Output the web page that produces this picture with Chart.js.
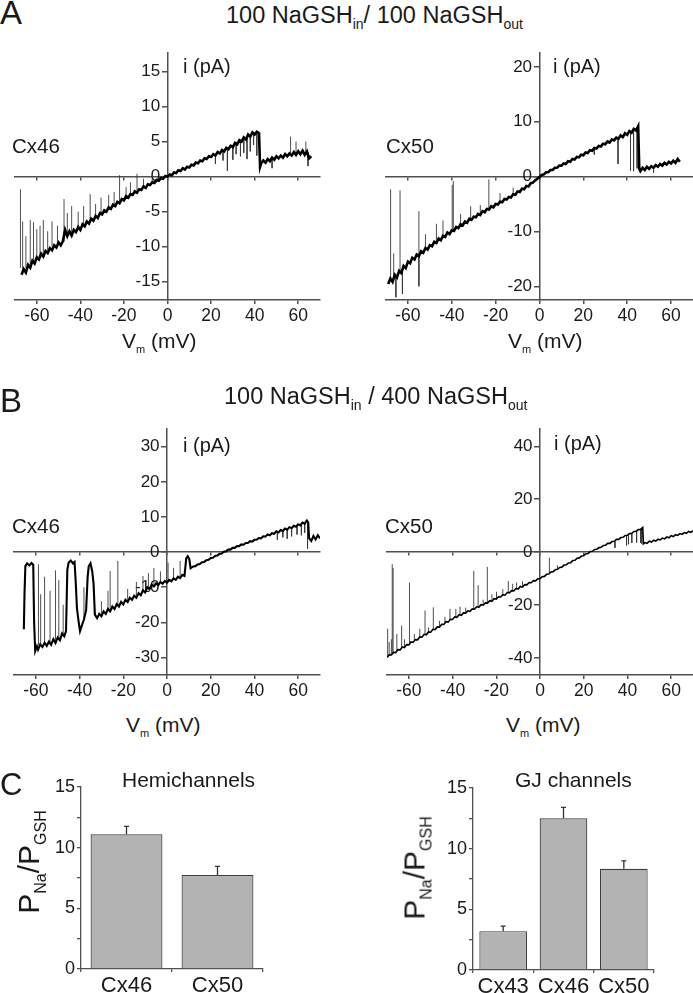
<!DOCTYPE html>
<html>
<head>
<meta charset="utf-8">
<script src="https://cdn.jsdelivr.net/npm/chart.js"></script>
<style>
  body { margin: 0; background: #fff; width: 693px; height: 993px; position: relative; overflow: hidden;
         font-family: "Liberation Sans", Arial, sans-serif; color: #1a1a1a; }
  canvas { position: absolute; }
  .t { position: absolute; line-height: 1; white-space: nowrap; z-index: 2; }
  .yl { position: absolute; line-height: 1; white-space: nowrap; transform: translate(-50%, -50%) rotate(-90deg); }
</style>
</head>
<body>
<canvas id="aL" width="340" height="290" style="left:0;top:40px"></canvas>
<canvas id="aR" width="333" height="290" style="left:360px;top:40px"></canvas>
<canvas id="bL" width="340" height="289" style="left:0;top:416px"></canvas>
<canvas id="bR" width="333" height="289" style="left:360px;top:416px"></canvas>
<canvas id="cL" width="300" height="233" style="left:0;top:760px"></canvas>
<canvas id="cR" width="313" height="233" style="left:380px;top:760px"></canvas>

<div class="t" style="left:0;top:-4px;font-size:33px">A</div>
<div class="t" style="left:226px;top:4px;font-size:23.5px">100 NaGSH<sub style="font-size:14px">in</sub>/ 100 NaGSH<sub style="font-size:14px">out</sub></div>
<div class="t" style="left:183px;top:56px;font-size:20px">i (pA)</div>
<div class="t" style="left:553px;top:56px;font-size:20px">i (pA)</div>
<div class="t" style="left:12px;top:136px;font-size:20.5px">Cx46</div>
<div class="t" style="left:386px;top:136px;font-size:20.5px">Cx50</div>
<div class="t" style="left:122px;top:330px;font-size:21px">V<sub style="font-size:11px">m</sub> (mV)</div>
<div class="t" style="left:508px;top:330px;font-size:21px">V<sub style="font-size:11px">m</sub> (mV)</div>

<div class="t" style="left:0;top:384px;font-size:33px">B</div>
<div class="t" style="left:224px;top:385px;font-size:23.5px">100 NaGSH<sub style="font-size:14px">in</sub> / 400 NaGSH<sub style="font-size:14px">out</sub></div>
<div class="t" style="left:183px;top:435px;font-size:20px">i (pA)</div>
<div class="t" style="left:554px;top:433px;font-size:20px">i (pA)</div>
<div class="t" style="left:12px;top:516px;font-size:20.5px">Cx46</div>
<div class="t" style="left:385px;top:516px;font-size:20.5px">Cx50</div>
<div class="t" style="left:126px;top:714px;font-size:21px">V<sub style="font-size:11px">m</sub> (mV)</div>
<div class="t" style="left:506px;top:714px;font-size:21px">V<sub style="font-size:11px">m</sub> (mV)</div>

<div class="t" style="left:0;top:769px;font-size:31px">C</div>
<div class="t" style="left:122px;top:769px;font-size:21px">Hemichannels</div>
<div class="t" style="left:515px;top:769px;font-size:21px">GJ channels</div>
<div class="yl" style="left:31px;top:862px;font-size:30px">P<sub style="font-size:16px">Na</sub>/P<sub style="font-size:16px">GSH</sub></div>
<div class="yl" style="left:417px;top:868px;font-size:30px">P<sub style="font-size:16px">Na</sub>/P<sub style="font-size:16px">GSH</sub></div>

<script>
// ---- tick labels ----
const vmTicks = [-60, -40, -20, 0, 20, 40, 60];
const aLTicks = [-15, -10, -5, 0, 5, 10, 15];
const aRTicks = [-20, -10, 0, 10, 20];
const bLTicks = [-30, -20, -10, 0, 10, 20, 30];
const bRTicks = [-40, -20, 0, 20, 40];

// ---- A: 100 NaGSH in / 100 NaGSH out ----
const vA46 = [-67,-66,-65,-64,-63,-62,-61,-60,-59,-58,-57,-56,-55,-54,-53,-52,-51,-50,-49,-48,
  -47,-46,-45,-44,-43,-42,-41,-40,-39,-38,-37,-36,-35,-34,-33,-32,-31,-30,-29,-28,
  -27,-26,-25,-24,-23,-22,-21,-20,-19,-18,-17,-16,-15,-14,-13,-12,-11,-10,-9,-8,
  -7,-6,-5,-4,-3,-2,-1,0,1,2,3,4,5,6,7,8,9,10,11,12,13,14,15,16,17,18,19,20,
  21,22,23,24,25,26,27,28,29,30,31,32,33,34,35,36,37,38,39,40,41,42,42.5,
  43,44,45,46,47,48,49,50,51,52,53,54,55,56,57,58,59,60,61,62,63,64,65,66];
const iA46 = [-14.0,-13.2,-13.7,-12.6,-13.0,-12.0,-12.4,-11.5,-11.8,-11.0,
  -11.4,-10.6,-10.9,-10.2,-10.5,-9.8,-10.1,-9.4,-9.8,-9.2,
  -7.6,-8.5,-7.8,-8.4,-7.6,-7.9,-7.2,-7.6,-6.8,-7.1,
  -6.4,-6.7,-6.0,-6.3,-5.6,-5.9,-5.2,-5.4,-4.8,-5.0,
  -4.4,-4.6,-4.0,-4.2,-3.6,-3.8,-3.2,-3.4,-2.8,-3.0,
  -2.5,-2.6,-2.1,-2.3,-1.8,-1.9,-1.4,-1.6,-1.1,-1.2,
  -0.8,-0.9,-0.5,-0.6,-0.2,-0.3,0.1,0.0,
  0.3,0.2,0.6,0.5,0.9,0.8,1.2,1.0,1.4,1.3,
  1.7,1.6,2.0,1.9,2.3,2.2,2.6,2.5,2.9,2.8,
  3.2,3.0,3.5,3.3,3.8,3.6,4.1,3.9,4.4,4.2,
  4.8,4.6,5.2,5.0,5.6,5.3,6.0,5.7,6.3,6.0,
  6.4,6.2,1.4,
  1.9,2.3,2.0,2.5,2.2,2.7,2.4,2.9,
  2.6,3.0,2.7,3.2,2.9,3.3,3.0,3.5,3.1,3.6,
  3.2,3.7,3.1,3.6,2.6,2.9];
const spkA46V  = [-67.5,-66.5,-65,-63,-61.5,-60,-58.5,-57,-55,-53,-50.5,-47.5,-46,-44,-41,-38.5,-35.5,-33,-30.5,-27,
  -24.5,-22,-19,-17,-14,-11,-7, 22,25.5,27.5,30,31.5,33.5,35,36.5,38,39.5,41, 48,56.5,59,63.5,64.5];
const spkA46Lo = [-13.0,-13.5,-13.0,-12.8,-12.0,-11.6,-11.3,-11.0,-10.5,-10.0,-9.5,-9.3,-8.4,-8.2,-7.3,-7.0,-6.2,-5.8,-5.3,-4.5,
  -4.1,-3.7,-2.9,-2.5,-2.2,-1.5,-0.8, 3.1,3.7,4.0,4.3,4.8,5.1,5.5,5.8,5.9,6.2,6.4, 2.7,3.3,3.2,3.5,3.4];
const spkA46Hi = [-1.8,-6.4,-8.5,-6.2,-6.5,-7.5,-7.0,-6.2,-7.8,-6.4,-7.0,-3.2,-5.2,-4.2,-5.0,-4.2,-2.5,-3.9,-3.0,-2.6,
  -2.2,0.2,-1.5,-0.8,0.4,-0.3,0.5, 1.8,2.3,0.8,2.4,3.2,2.9,3.4,2.5,3.6,4.5,3.0, 1.2,5.7,5.0,5.0,1.5];

const vA50 = [-69,-68,-67,-66,-65,-64,-63,-62,-61,-60,-59,-58,-57,-56,-55,-54,-53,-52,-51,-50,
  -49,-48,-47,-46,-45,-44,-43,-42,-41,-40,-39,-38,-37,-36,-35,-34,-33,-32,-31,-30,
  -29,-28,-27,-26,-25,-24,-23,-22,-21,-20,-19,-18,-17,-16,-15,-14,-13,-12,-11,-10,
  -9,-8,-7,-6,-5,-4,-3,-2,-1,0,1,2,3,4,5,6,7,8,9,10,11,12,13,14,15,16,17,18,19,20,
  21,22,23,24,25,26,27,28,29,30,31,32,33,34,35,36,37,38,39,40,41,42,43,44,45,45.5,
  46,47,48,49,50,51,52,53,54,55,56,57,58,59,60,61,62,63,64];
const iA50 = [-19.6,-18.6,-19.2,-17.9,-18.4,-17.2,-17.6,-16.3,-16.7,-15.5,
  -15.8,-14.8,-15.1,-14.2,-14.5,-13.6,-13.9,-13.0,-13.3,-12.5,
  -12.7,-11.9,-12.1,-11.3,-11.6,-10.8,-11.0,-10.2,-10.5,-9.8,
  -9.9,-9.2,-9.4,-8.7,-8.9,-8.2,-8.4,-7.7,-7.9,-7.3,
  -7.4,-6.8,-7.0,-6.3,-6.5,-5.9,-6.0,-5.4,-5.6,-5.0,
  -5.1,-4.6,-4.7,-4.1,-4.2,-3.7,-3.8,-3.2,-3.3,-2.7,
  -2.8,-2.2,-2.3,-1.7,-1.8,-1.2,-1.1,-0.7,-0.4,-0.1,
  0.3,0.4,0.8,0.8,1.2,1.2,1.6,1.6,2.0,2.0,
  2.4,2.3,2.8,2.7,3.2,3.1,3.6,3.5,4.0,3.9,
  4.4,4.3,4.8,4.7,5.2,5.1,5.6,5.5,6.0,5.9,
  6.4,6.2,6.8,6.6,7.1,6.9,7.5,7.2,7.9,7.6,
  8.3,8.0,8.7,8.4,9.2,1.4,
  1.0,1.6,1.2,1.8,1.4,1.9,1.6,2.1,1.8,2.3,
  2.0,2.5,2.2,2.7,2.4,2.9,2.5,3.2,2.7];
const spkA50V  = [-67.9,-66.5,-65.5,-63.6,-62.5,-55,-55,-52,-47,-44,-39.8,-39.3,-36,-31.4,-27,-23.1,-18,-12, 25,35.8,41.5,42.9,44.5,52];
const spkA50Lo = [-19.0,-18.5,-18.2,-17.4,-17.0,-14.5,-14.5,-13.0,-12.1,-10.8,-9.8,-9.9,-8.7,-7.9,-7.0,-6.0,-4.6,-3.2, 5.1,7.0,8.2,8.6,9.0,1.6];
const spkA50Hi = [-2.3,-14.0,-22.0,-2.5,-21.4,-6.3,-20.0,-10.5,-8.6,-8.0,-1.5,-0.8,-6.8,-5.4,-5.2,-0.5,-3.0,-2.0, 4.0,2.3,1.1,1.0,1.5,0.7];

// ---- B: 100 NaGSH in / 400 NaGSH out ----
const vB46 = [-65.5,-65.2,-64.8,-64,-63,-62,-61.2,-60.8,-60.3,-59.5,-59,-58,-57,-56,-55,-54,-53,-52,-51,-50,
  -49,-48,-47,-46.2,-45.6,-45,-44,-43,-42.3,-41.8,-41.2,-40.5,-39.8,-39,-38,-37,-36.3,-35.8,-35,-34.2,-33.6,-33,
  -32,-31,-30,-29,-28,-27,-26,-25,-24,-23,-22,-21,-20,-19,-18,-17,-16,-15,-14,-13,-12,-11,-10,-9,
  -8,-7,-6,-5,-4,-3,-2,-1,0,1,2,3,4,5,6,7,8,8.8,9.5,10.2,10.8,
  12,13,14,15,16,17,18,19,20,21,22,23,24,25,26,27,28,29,30,31,32,33,34,35,36,37,38,39,40,
  41,42,43,44,45,46,47,48,49,50,51,52,53,54,55,56,57,58,59,60,61,62,63,64,64.6,65,66,67,68,69,70];
const iB46 = [-22.0,-12.0,-4.0,-3.2,-3.8,-3.1,-3.6,-20.0,-28.2,-26.8,-27.8,-26.3,-27.0,-25.8,-26.7,-25.5,-26.4,-24.8,-25.9,-24.3,
  -25.1,-23.2,-24.0,-22.5,-5.0,-3.0,-2.4,-3.2,-2.8,-8.0,-16.0,-19.5,-22.5,-21.0,-19.2,-16.5,-7.0,-4.0,-3.2,-5.5,-9.0,-17.8,
  -18.8,-17.6,-18.3,-16.9,-17.6,-16.2,-16.9,-15.5,-16.2,-14.8,-15.5,-14.2,-14.9,-13.6,-14.2,-13.0,-13.6,-12.4,-13.0,-11.7,-12.3,-10.9,-11.5,-10.0,
  -10.6,-9.3,-9.8,-8.9,-9.4,-8.5,-9.0,-8.2,-8.7,-7.9,-8.3,-7.5,-7.9,-7.0,-7.4,-6.5,-6.8,-1.8,-1.2,-2.0,-4.6,
  -4.1,-4.0,-3.5,-3.4,-2.9,-2.8,-2.3,-2.2,-1.7,-1.6,-1.1,-1.0,-0.5,-0.4,0.1,0.2,0.7,0.7,1.2,1.2,1.7,1.7,2.2,2.1,2.6,2.6,3.1,3.0,3.5,
  3.5,4.0,3.9,4.5,4.4,5.0,4.8,5.4,5.2,5.9,5.6,6.3,6.0,6.7,6.4,7.1,6.8,7.5,7.2,7.9,7.6,8.4,8.1,9.0,8.5,4.0,3.2,4.6,3.6,4.8,3.9];
const spkB46V  = [-58.8,-57.8,-56,-53.5,-51,-49.5,-47.5,-38,-30,-27,-26,-22.5,-18,-14,-11,-8.5,-6,-3,0.5,3,6,
  50.5,53,55,57,59.5,61.5,63,64.3];
const spkB46Lo = [-26.5,-26.3,-25.8,-26.0,-25.9,-24.8,-23.6,-19.2,-18.3,-16.2,-16.9,-15.3,-14.2,-13.0,-10.9,-10.3,-9.8,-8.5,-8.3,-7.5,-7.4,
  5.7,6.0,6.4,6.8,7.4,8.0,8.1,8.8];
const spkB46Hi = [-3.5,-12.0,-7.0,-11.0,-5.2,-8.0,-15.0,-10.0,-14.0,-11.0,-5.4,-2.5,-10.5,-8.5,-6.8,-6.0,-4.5,-5.5,-3.0,-4.5,-2.5,
  3.5,4.2,3.8,4.5,5.0,4.8,5.5,1.0];

const vB50 = [-70,-69,-68,-67,-66,-65,-64,-63,-62,-61,-60,-59,-58,-57,-56,-55,-54,-53,-52,-51,
  -50,-49,-48,-47,-46,-45,-44,-43,-42,-41,-40,-39,-38,-37,-36,-35,-34,-33,-32,-31,
  -30,-29,-28,-27,-26,-25,-24,-23,-22,-21,-20,-19,-18,-17,-16,-15,-14,-13,-12,-11,
  -10,-9,-8,-7,-6,-5,-4,-3,-2,-1,0,1,2,3,4,5,6,7,8,9,10,11,12,13,14,15,16,17,18,19,
  20,21,22,23,24,25,26,27,28,29,30,31,32,33,34,35,36,37,38,39,40,41,42,43,44,45,46,47,47.3,
  48,49,50,51,52,53,54,55,56,57,58,59,60,61,62,63,64,65,66,67,68,69,70];
const iB50 = [-39.9,-38.9,-38.9,-37.9,-38.0,-36.9,-37.0,-35.9,-36.1,-35.0,
  -35.1,-34.0,-34.1,-33.1,-33.2,-32.1,-32.2,-31.1,-31.3,-30.2,
  -30.3,-29.2,-29.3,-28.3,-28.4,-27.3,-27.4,-26.3,-26.5,-25.4,
  -25.5,-24.5,-24.7,-23.7,-23.9,-23.0,-23.1,-22.2,-22.4,-21.5,
  -21.6,-20.7,-20.9,-19.9,-20.1,-19.2,-19.3,-18.4,-18.6,-17.6,
  -17.8,-16.9,-17.0,-16.1,-16.3,-15.3,-15.4,-14.6,-14.7,-13.8,
  -14.0,-13.0,-13.2,-12.3,-12.4,-11.5,-11.6,-10.8,-10.9,-10.1,
  -10.1,-9.3,-9.2,-8.4,-8.3,-7.5,-7.4,-6.7,-6.5,-5.8,
  -5.7,-4.9,-4.8,-4.1,-4.0,-3.2,-3.1,-2.3,-2.2,-1.5,
  -1.4,-0.6,-0.5,0.2,0.3,1.0,1.1,1.7,1.8,2.5,
  2.6,3.3,3.3,4.0,4.1,4.8,4.8,5.5,5.6,6.3,
  6.4,7.0,7.1,7.8,7.9,8.5,8.6,9.3,3.1,
  3.6,3.3,4.1,3.8,4.5,4.2,4.9,4.6,5.3,5.0,
  5.7,5.4,6.2,5.9,6.6,6.3,7.0,6.7,7.4,7.1,
  7.8,7.5,8.1];
const spkB50V  = [-69.7,-69,-68,-67.6,-67.2,-65.5,-63.3,-62,-59.7,-57.5,-55,-52.6,-51,-48.8,-46,-43.5,-41.2,-38.5,-36.6,-34,
  -30.3,-28.3,-26,-24.1,-22,-19.9,-17,-14.5,-12.5,-10.7,-8,4.3,8, 34.3,39.6,40.5,42,44.2,46,46.5];
const spkB50Lo = [-39.7,-38.9,-38.8,-38.7,-38.5,-37.5,-36.5,-36.0,-34.7,-33.6,-32.4,-31.2,-30.5,-29.4,-28.1,-26.8,-25.8,-24.6,-23.9,-23.0,
  -21.6,-20.8,-20.0,-19.3,-18.5,-17.7,-16.4,-15.4,-14.7,-14.0,-13.0,-8.2,-6.5, 4.1,6.3,6.6,7.1,8.0,8.6,8.9];
const spkB50Hi = [-29.0,-34.0,-33.0,-4.6,-6.0,-31.0,-27.8,-33.0,-11.5,-31.0,-29.0,-22.1,-28.5,-20.9,-26.0,-24.5,-21.5,-21.5,-20.6,-21.0,
  -7.1,-12.5,-18.0,-5.6,-16.0,-15.0,-14.0,-10.9,-12.0,-11.5,-11.0,-2.1,-5.0, 1.6,2.5,3.0,3.5,3.6,3.5,3.2];

// ---- C: permeability ratios ----
const hemiCats = ['Cx46', 'Cx50'];
const hemiVals = [11.1, 7.75];
const hemiErr  = [0.65, 0.7];
const gjCats = ['Cx43', 'Cx46', 'Cx50'];
const gjVals = [3.2, 12.5, 8.35];
const gjErr  = [0.42, 0.9, 0.65];

const AXIS = '#505050';
Chart.defaults.font.family = '"Liberation Sans", Arial, sans-serif';
Chart.defaults.color = '#1a1a1a';
Chart.defaults.animation = false;
Chart.defaults.events = [];

function points(vs, is) {
  return vs.map((v, k) => ({x: v, y: is[k]}));
}
// each spike is a short vertical stroke, separated by a gap
function spikes(vs, lo, hi) {
  const out = [];
  vs.forEach((v, k) => { out.push({x: v, y: lo[k]}, {x: v, y: hi[k]}, {x: v, y: null}); });
  return out;
}
const fixTicks = list => scale => { scale.ticks = list.map(v => ({value: v})); };

function ivChart(id, pad, yMax, yTicks, v, i, sv, slo, shi, lw) {
  const axisLine = {color: AXIS, width: 1.5};
  return new Chart(document.getElementById(id), {
    type: 'scatter',
    data: {
      datasets: [
        {data: points(v, i), showLine: true, borderColor: '#000', borderWidth: lw, pointRadius: 0, xAxisID: 'xb', yAxisID: 'y'},
        {data: spikes(sv, slo, shi), showLine: true, spanGaps: false, borderColor: '#3a3a3a', borderWidth: 0.9, pointRadius: 0, xAxisID: 'xb', yAxisID: 'y'}
      ]
    },
    options: {
      responsive: false,
      layout: {padding: pad},
      plugins: {legend: {display: false}, tooltip: {enabled: false}},
      scales: {
        xb: {
          type: 'linear', position: 'bottom', min: -70, max: 70,
          afterBuildTicks: fixTicks(vmTicks),
          ticks: {maxRotation: 0, padding: 2, font: {size: 17.5}},
          grid: {drawOnChartArea: false, tickLength: 4, color: AXIS, lineWidth: 1.5},
          border: axisLine,
          afterFit: s => { s.height = 30; }
        },
        x0: {
          type: 'linear', position: {y: 0}, min: -70, max: 70,
          afterBuildTicks: fixTicks(vmTicks),
          ticks: {display: false},
          grid: {drawOnChartArea: false, tickLength: 3, color: AXIS, lineWidth: 1.5},
          border: axisLine
        },
        // current axis through V = 0 (line and tick marks)
        y: {
          type: 'linear', position: {xb: 0}, min: -yMax, max: yMax,
          afterBuildTicks: fixTicks(yTicks),
          ticks: {display: false},
          grid: {drawOnChartArea: false, tickLength: 5, color: AXIS, lineWidth: 1.5},
          border: axisLine
        },
        // its labels, set a few px left of the axis line
        yLab: {
          type: 'linear', position: {xb: -3.4}, min: -yMax, max: yMax,
          afterBuildTicks: fixTicks(yTicks),
          ticks: {font: {size: 17}},
          grid: {display: false},
          border: {display: false}
        }
      }
    }
  });
}

ivChart('aL', {left: 15, right: 20, top: 12, bottom: 0}, 17.6, aLTicks, vA46, iA46, spkA46V, spkA46Lo, spkA46Hi, 2.6);
ivChart('aR', {left: 26, right: 0, top: 12, bottom: 0}, 22.5, aRTicks, vA50, iA50, spkA50V, spkA50Lo, spkA50Hi, 2.6);
ivChart('bL', {left: 14, right: 20, top: 12, bottom: 0}, 35, bLTicks, vB46, iB46, spkB46V, spkB46Lo, spkB46Hi, 2.1);
ivChart('bR', {left: 27, right: 0, top: 12, bottom: 0}, 46.5, bRTicks, vB50, iB50, spkB50V, spkB50Lo, spkB50Hi, 1.6);

const errorBars = {
  id: 'errorBars',
  afterDatasetsDraw(chart) {
    const ctx = chart.ctx;
    const ds = chart.data.datasets[0];
    const y = chart.scales.y;
    ctx.save();
    ctx.strokeStyle = '#333';
    ctx.lineWidth = 1.3;
    chart.getDatasetMeta(0).data.forEach((bar, k) => {
      const top = y.getPixelForValue(ds.data[k] + ds.errors[k]);
      ctx.beginPath();
      ctx.moveTo(bar.x, bar.y);
      ctx.lineTo(bar.x, top);
      ctx.moveTo(bar.x - 2.5, top);
      ctx.lineTo(bar.x + 2.5, top);
      ctx.stroke();
    });
    ctx.restore();
  }
};

function barChart(id, pad, yWidth, xHeight, cats, vals, errs) {
  return new Chart(document.getElementById(id), {
    type: 'bar',
    data: {
      labels: cats,
      datasets: [{data: vals, errors: errs, backgroundColor: '#b3b3b3', borderColor: '#3c3c3c', borderWidth: 1.2,
                  barPercentage: 0.79, categoryPercentage: 1}]
    },
    options: {
      responsive: false,
      layout: {padding: pad},
      plugins: {legend: {display: false}, tooltip: {enabled: false}},
      scales: {
        x: {
          ticks: {padding: 1, font: {size: 22}},
          grid: {drawOnChartArea: false, offset: true, tickLength: 3, color: AXIS, lineWidth: 1.3},
          border: {color: AXIS, width: 1.3},
          afterFit: s => { s.height = xHeight; }
        },
        y: {
          min: 0, max: 15,
          ticks: {stepSize: 2.5, padding: 2, font: {size: 18}, callback: v => (v % 5 === 0 ? v : '')},
          grid: {drawOnChartArea: false, tickLength: 4, color: AXIS, lineWidth: 1.3},
          border: {color: AXIS, width: 1.3},
          afterFit: s => { s.width = yWidth; }
        }
      }
    },
    plugins: [errorBars]
  });
}

barChart('cL', {left: 0, right: 37, top: 27, bottom: 0}, 81, 24, hemiCats, hemiVals, hemiErr);
barChart('cR', {left: 0, right: 39, top: 28, bottom: 0}, 93, 23, gjCats, gjVals, gjErr);
</script>
</body>
</html>
